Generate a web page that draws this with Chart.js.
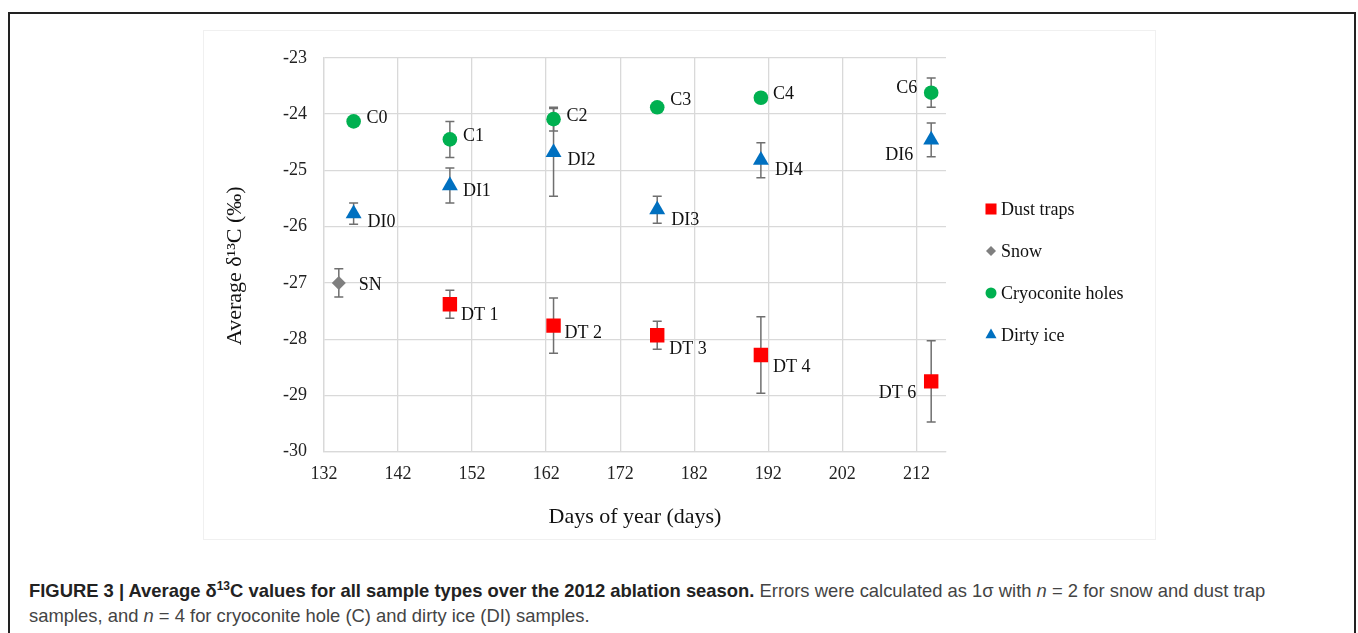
<!DOCTYPE html>
<html>
<head>
<meta charset="utf-8">
<script src="https://cdn.jsdelivr.net/npm/chart.js@4.4.0/dist/chart.umd.min.js"></script>
<style>
    body { margin: 0; background: #fff; width: 1358px; height: 633px; overflow: hidden; position: relative; }
    .frame { position: absolute; left: 8px; top: 12px; width: 1344px; height: 700px; border: 2px solid #222; }
    .chart-box { position: absolute; left: 203px; top: 30px; width: 953px; height: 510px; border: 1px solid #f0f0f0; box-sizing: border-box; }
    .chart-box canvas { position: absolute; left: -1px; top: -1px; }
    .caption { position: absolute; left: 29px; top: 578px; font-family: "Liberation Sans", Arial, sans-serif; font-size: 18.4px; line-height: 25px; color: #444; white-space: nowrap; }
    .caption b { color: #222; }
    .caption sup { font-size: 12px; line-height: 0; }
</style>
</head>
<body>
<div class="frame"></div>
<div class="chart-box"><canvas id="isoChart" width="953" height="510"></canvas></div>
<div class="caption"><b>FIGURE 3 | Average δ<sup>13</sup>C values for all sample types over the 2012 ablation season.</b> Errors were calculated as 1σ with <i>n</i> = 2 for snow and dust trap<br>samples, and <i>n</i> = 4 for cryoconite hole (C) and dirty ice (DI) samples.</div>

<script>
// Axis ticks
const xTicks = [132, 142, 152, 162, 172, 182, 192, 202, 212];

// Dust traps
const dustDays = [149, 163, 177, 191, 214];
const dustMean = [-27.38, -27.76, -27.93, -28.28, -28.75];
const dustErr = [0.25, 0.49, 0.25, 0.68, 0.72];
const dustLabels = ['DT 1', 'DT 2', 'DT 3', 'DT 4', 'DT 6'];

// Snow
const snowDays = [134];
const snowMean = [-27.0];
const snowErr = [0.25];
const snowLabels = ['SN'];

// Cryoconite holes
const cryoDays = [136, 149, 163, 177, 191, 214];
const cryoMean = [-24.13, -24.45, -24.09, -23.88, -23.71, -23.62];
const cryoErr = [0, 0.32, 0.21, 0, 0, 0.26];
const cryoLabels = ['C0', 'C1', 'C2', 'C3', 'C4', 'C6'];

// Dirty ice
const iceDays = [136, 149, 163, 177, 191, 214];
const iceMean = [-25.77, -25.27, -24.68, -25.70, -24.82, -24.46];
const iceErr = [0.19, 0.31, 0.78, 0.24, 0.31, 0.30];
const iceLabels = ['DI0', 'DI1', 'DI2', 'DI3', 'DI4', 'DI6'];

// label placement (dx, dy in px from the marker; negative dx = text on the left)
const labelPlace = {
    'SN': [20, 2],
    'C0': [13, -3], 'C1': [13, -3], 'C2': [13, -3], 'C3': [13, -7], 'C4': [12, -3], 'C6': [-14, -4],
    'DI0': [14, 9], 'DI1': [13, 6], 'DI2': [14, 8], 'DI3': [14, 11], 'DI4': [14, 10], 'DI6': [-18, 15],
    'DT 1': [11, 11], 'DT 2': [11, 8], 'DT 3': [12, 14], 'DT 4': [12, 12], 'DT 6': [-15, 12]
};

const SERIF = '"Liberation Serif", "Times New Roman", serif';
Chart.defaults.font.family = SERIF;
Chart.defaults.font.size = 18;
Chart.defaults.color = '#222';

function points(days, mean) {
    return days.map((d, i) => ({ x: d, y: mean[i] }));
}

function makeSet(label, days, mean, err, names, color, style, radius, legendRadius) {
    return {
        label: label,
        data: points(days, mean),
        errors: err,
        names: names,
        backgroundColor: color,
        borderColor: color,
        borderWidth: 0,
        pointStyle: style,
        pointRadius: radius,
        pointHoverRadius: radius,
        legendRadius: legendRadius,
        showLine: false
    };
}

// Error bars under the markers
const errorBars = {
    id: 'errorBars',
    beforeDatasetsDraw(chart) {
        const ctx = chart.ctx;
        const yScale = chart.scales.y;
        ctx.save();
        ctx.strokeStyle = '#6f6f6f';
        ctx.lineWidth = 1.5;
        chart.data.datasets.forEach((ds, di) => {
            const meta = chart.getDatasetMeta(di);
            meta.data.forEach((pt, i) => {
                const e = ds.errors[i];
                if (!e) return;
                const v = ds.data[i].y;
                const top = yScale.getPixelForValue(v + e);
                const bot = yScale.getPixelForValue(v - e);
                ctx.beginPath();
                ctx.moveTo(pt.x, top);
                ctx.lineTo(pt.x, bot);
                ctx.moveTo(pt.x - 4.5, top);
                ctx.lineTo(pt.x + 4.5, top);
                ctx.moveTo(pt.x - 4.5, bot);
                ctx.lineTo(pt.x + 4.5, bot);
                ctx.stroke();
            });
        });
        ctx.restore();
    }
};

// Point labels and legend
const pointLabels = {
    id: 'pointLabels',
    afterDatasetsDraw(chart) {
        const ctx = chart.ctx;
        ctx.save();
        ctx.font = '18px ' + SERIF;
        ctx.fillStyle = '#111';
        ctx.textBaseline = 'middle';
        chart.data.datasets.forEach((ds, di) => {
            const meta = chart.getDatasetMeta(di);
            meta.data.forEach((pt, i) => {
                const name = ds.names[i];
                const p = labelPlace[name] || [12, 0];
                ctx.textAlign = p[0] < 0 ? 'right' : 'left';
                ctx.fillText(name, pt.x + p[0], pt.y + p[1]);
            });
        });

        // legend
        const lx = 788;
        chart.data.datasets.forEach((ds, di) => {
            const ly = 179 + di * 42;
            ctx.fillStyle = ds.backgroundColor;
            Chart.helpers.drawPoint(ctx, {
                pointStyle: ds.pointStyle, rotation: 0, radius: ds.legendRadius, borderWidth: 0
            }, lx, ly);
            ctx.fillStyle = '#111';
            ctx.textAlign = 'left';
            ctx.fillText(ds.label, lx + 10, ly + 1);
        });
        ctx.restore();
    }
};

document.addEventListener('DOMContentLoaded', function() {
    const ctx = document.getElementById('isoChart').getContext('2d');

    window.isoChart = new Chart(ctx, {
        type: 'scatter',
        data: {
            datasets: [
                makeSet('Dust traps', dustDays, dustMean, dustErr, dustLabels, '#ff0000', 'rect', 10.2, 7.8),
                makeSet('Snow', snowDays, snowMean, snowErr, snowLabels, '#7f7f7f', 'rectRot', 7, 5),
                makeSet('Cryoconite holes', cryoDays, cryoMean, cryoErr, cryoLabels, '#00b050', 'circle', 7.3, 5.5),
                makeSet('Dirty ice', iceDays, iceMean, iceErr, iceLabels, '#0070c0', 'triangle', 9.2, 6.4)
            ]
        },
        options: {
            responsive: false,
            animation: false,
            devicePixelRatio: 1,
            layout: {
                padding: { top: 24.7, right: 210, bottom: 0, left: 0 }
            },
            plugins: {
                legend: { display: false },
                tooltip: { enabled: false }
            },
            scales: {
                x: {
                    type: 'linear',
                    min: 132,
                    max: 216,
                    afterBuildTicks: scale => {
                        scale.ticks = xTicks.map(v => ({ value: v }));
                    },
                    afterFit: scale => { scale.height = 88.3; },
                    grid: { color: '#d9d9d9', lineWidth: 1.3, drawTicks: false },
                    border: { color: '#d9d9d9', width: 1.3 },
                    ticks: {
                        padding: 12,
                        color: '#222',
                        font: { family: SERIF, size: 18 }
                    },
                    title: {
                        display: true,
                        text: 'Days of year (days)',
                        color: '#111',
                        font: { family: SERIF, size: 22 },
                        padding: { top: 0, bottom: 10 }
                    }
                },
                y: {
                    min: -30,
                    max: -23,
                    afterFit: scale => { scale.width = 121; },
                    grid: { color: '#d9d9d9', lineWidth: 1.3, drawTicks: false },
                    border: { color: '#d9d9d9', width: 1.3 },
                    ticks: {
                        stepSize: 1,
                        padding: 17,
                        color: '#222',
                        font: { family: SERIF, size: 18 }
                    },
                    title: {
                        display: true,
                        text: 'Average δ¹³C (‰)    ',
                        color: '#111',
                        font: { family: SERIF, size: 22 },
                        padding: { top: 19, bottom: 0 }
                    }
                }
            }
        },
        plugins: [errorBars, pointLabels]
    });
});
</script>
</body>
</html>
